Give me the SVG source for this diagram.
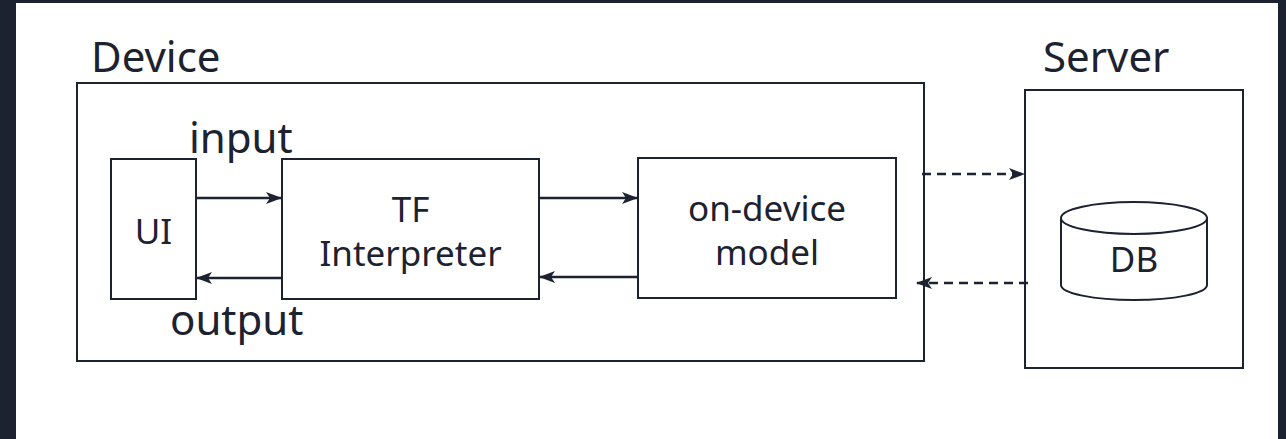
<svg xmlns="http://www.w3.org/2000/svg" width="1286" height="439" viewBox="0 0 1286 439">
  <style>
    .box { fill: #ffffff; stroke: #1c2230; stroke-width: 2; }
    .lbl { font-family: "Noto Sans", "Open Sans", sans-serif; fill: #1c2230; }
    .big { font-size: 42px; }
    .mid { font-size: 35px; text-anchor: middle; }
    .conn { stroke: #1c2230; stroke-width: 2.5; fill: none; }
    .dash { stroke-dasharray: 9 6; }
  </style>
  <defs>
    <marker id="arrow" viewBox="0 0 16 12" refX="15" refY="6" markerWidth="16" markerHeight="12" markerUnits="userSpaceOnUse" orient="auto">
      <path d="M0,0 L16,6 L0,12 L4,6 Z" fill="#1c2230"/>
    </marker>
  </defs>

  <!-- page frame -->
  <rect x="0" y="0" width="1286" height="439" fill="#1c2230"/>
  <rect x="16" y="3" width="1262" height="436" fill="#ffffff"/>

  <!-- device container -->
  <g id="device">
    <rect class="box" x="77" y="83" width="847" height="278"/>
    <text class="lbl big" x="91" y="72">Device</text>
  </g>

  <!-- server container -->
  <g id="server">
    <rect class="box" x="1025" y="90" width="218" height="278"/>
    <text class="lbl big" x="1043" y="72">Server</text>
  </g>

  <g id="ui">
    <rect class="box" x="111" y="159" width="85" height="140"/>
    <text class="lbl mid" x="153.5" y="244">UI</text>
  </g>

  <g id="tf-interpreter">
    <rect class="box" x="282" y="159" width="257" height="140"/>
    <text class="lbl mid" x="410.5" y="222">TF</text>
    <text class="lbl mid" x="410.5" y="266">Interpreter</text>
  </g>

  <g id="on-device-model">
    <rect class="box" x="638" y="158" width="258" height="140"/>
    <text class="lbl mid" x="767" y="221">on-device</text>
    <text class="lbl mid" x="767" y="265">model</text>
  </g>

  <g id="db">
    <path class="box" d="M1061,218 L1061,285 A73,15 0 0 0 1207,285 L1207,218"/>
    <ellipse class="box" cx="1134" cy="218" rx="73" ry="16"/>
    <text class="lbl mid" x="1134" y="272">DB</text>
  </g>

  <!-- connectors -->
  <g id="connectors">
    <line class="conn" x1="196" y1="198" x2="281" y2="198" marker-end="url(#arrow)"/>
    <line class="conn" x1="282" y1="278" x2="197" y2="278" marker-end="url(#arrow)"/>
    <line class="conn" x1="539" y1="198" x2="637" y2="198" marker-end="url(#arrow)"/>
    <line class="conn" x1="638" y1="277" x2="540" y2="277" marker-end="url(#arrow)"/>
    <line class="conn dash" x1="922" y1="174" x2="1024" y2="174" marker-end="url(#arrow)"/>
    <line class="conn dash" x1="1028" y1="283" x2="917" y2="283" marker-end="url(#arrow)"/>
    <text class="lbl big" x="189" y="153">input</text>
    <text class="lbl big" x="170" y="335">output</text>
  </g>
</svg>
